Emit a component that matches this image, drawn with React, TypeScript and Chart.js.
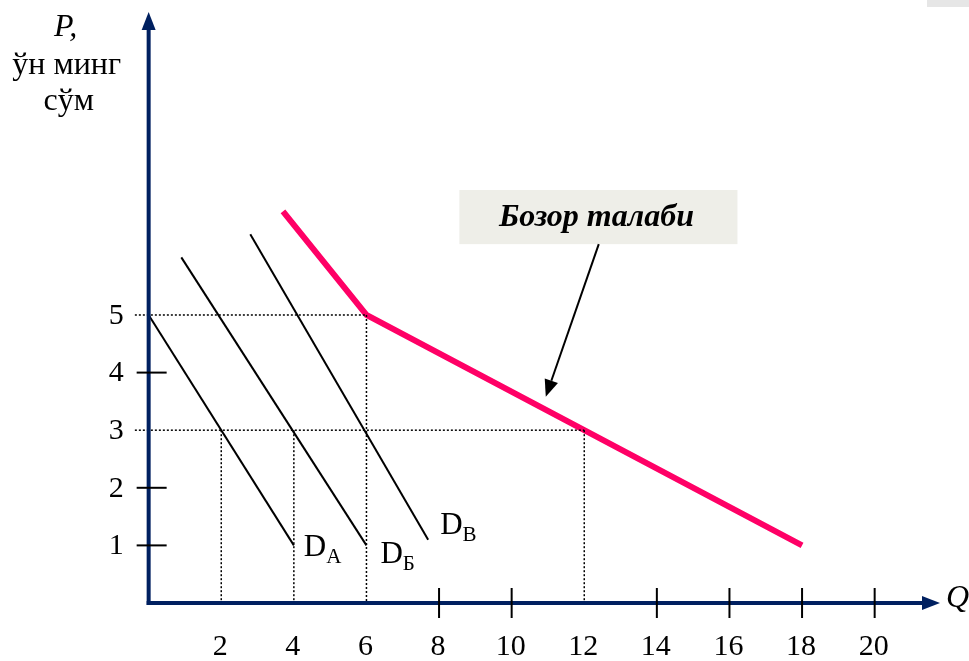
import React, { useEffect, useRef } from "react";
import { Chart, registerables } from "chart.js";

Chart.register(...registerables);

// ---- data ----
const qTickValues = [2, 4, 6, 8, 10, 12, 14, 16, 18, 20];
const qTickLabels = ["2", "4", "6", "8", "10", "12", "14", "16", "18", "20"];
const qMarkedTicks = [8, 10, 14, 16, 18, 20];
const pTickValues = [1, 2, 3, 4, 5];
const pTickLabels = ["1", "2", "3", "4", "5"];
const pMarkedTicks = [1, 2, 4];

const demandAQ = [0, 4];
const demandAP = [5, 1];
const demandBQ = [0.9, 6];
const demandBP = [6, 1];
const demandVQ = [2.8, 7.7];
const demandVP = [6.4, 1.1];
const marketQ = [3.7, 6, 12, 18];
const marketP = [6.8, 5, 3, 1];

// guide (dotted) lines
const hGuideP = [5, 3];
const hGuideToQ = [6, 12];
const vGuideQ = [2, 4, 6, 12];
const vGuideFromP = [3, 3, 5, 3];

const demandLabels = ["А", "Б", "В"];

const X_MIN = -0.5;
const X_MAX = 21.8;
const Y_MAX = 10.26;
const NAVY = "#002060";
const PINK = "#FF0066";
const SERIF = "'Liberation Serif', 'Times New Roman', serif";

const toPts = (qs: number[], ps: number[]) => qs.map((q, i) => ({ x: q, y: ps[i] }));

const overlayPlugin = {
  id: "overlay",
  afterDatasetsDraw(chart: any) {
    const { ctx } = chart;
    const xs = chart.scales.x;
    const ys = chart.scales.y;
    const X = (v: number) => xs.getPixelForValue(v);
    const Y = (v: number) => ys.getPixelForValue(v);
    const x0 = X(0);
    const y0 = Y(0);
    const yTop = Y(Y_MAX);
    const xEnd = X(X_MAX);
    ctx.save();

    // corner grey block
    ctx.fillStyle = "#E6E6E6";
    ctx.fillRect(927, 0, 42, 7);

    // axes
    ctx.strokeStyle = NAVY;
    ctx.fillStyle = NAVY;
    ctx.lineWidth = 4;
    ctx.beginPath();
    ctx.moveTo(x0, y0 + 2);
    ctx.lineTo(x0, yTop + 14);
    ctx.stroke();
    ctx.beginPath();
    ctx.moveTo(x0, yTop);
    ctx.lineTo(x0 - 7, yTop + 18);
    ctx.lineTo(x0 + 7, yTop + 18);
    ctx.closePath();
    ctx.fill();

    ctx.beginPath();
    ctx.moveTo(x0 - 2, y0);
    ctx.lineTo(xEnd - 14, y0);
    ctx.stroke();
    ctx.beginPath();
    ctx.moveTo(xEnd, y0);
    ctx.lineTo(xEnd - 18, y0 - 7);
    ctx.lineTo(xEnd - 18, y0 + 7);
    ctx.closePath();
    ctx.fill();

    // tick marks
    ctx.strokeStyle = "#000";
    ctx.lineWidth = 2;
    qMarkedTicks.forEach((q) => {
      ctx.beginPath();
      ctx.moveTo(X(q), y0 - 15);
      ctx.lineTo(X(q), y0 + 15);
      ctx.stroke();
    });
    pMarkedTicks.forEach((p) => {
      ctx.beginPath();
      ctx.moveTo(x0 - 12, Y(p));
      ctx.lineTo(x0 + 18, Y(p));
      ctx.stroke();
    });

    // tick labels
    ctx.fillStyle = "#000";
    ctx.font = `30px ${SERIF}`;
    ctx.textAlign = "center";
    ctx.textBaseline = "middle";
    qTickValues.forEach((q, i) => {
      ctx.fillText(qTickLabels[i], X(q) - 1, y0 + 44);
    });
    ctx.textAlign = "right";
    pTickValues.forEach((p, i) => {
      ctx.fillText(pTickLabels[i], x0 - 25, Y(p) + 1);
    });

    // axis titles
    ctx.textAlign = "center";
    ctx.textBaseline = "alphabetic";
    ctx.font = `italic 32px ${SERIF}`;
    ctx.fillText("P,", x0 - 83, yTop + 24);
    ctx.font = `32px ${SERIF}`;
    ctx.fillText("ўн минг", x0 - 82, yTop + 62);
    ctx.fillText("сўм", x0 - 80, yTop + 98);
    ctx.font = `italic 32px ${SERIF}`;
    ctx.textAlign = "left";
    ctx.textBaseline = "middle";
    ctx.fillText("Q", xEnd + 6, y0 - 4);

    // demand labels D_A, D_Б, D_В
    const ends = [
      { q: demandAQ[1], p: demandAP[1], dx: 10, dy: 11 },
      { q: demandBQ[1], p: demandBP[1], dx: 14, dy: 18 },
      { q: demandVQ[1], p: demandVP[1], dx: 12, dy: -6 },
    ];
    ctx.textAlign = "left";
    ctx.textBaseline = "alphabetic";
    ends.forEach((e, i) => {
      const lx = X(e.q) + e.dx;
      const ly = Y(e.p) + e.dy;
      ctx.font = `31px ${SERIF}`;
      ctx.fillText("D", lx, ly);
      const w = ctx.measureText("D").width;
      ctx.font = `21px ${SERIF}`;
      ctx.fillText(demandLabels[i], lx + w, ly + 7);
    });

    // market demand callout
    const bx1 = X(8.56), bx2 = X(16.22), by1 = Y(7.17), by2 = Y(6.23);
    ctx.fillStyle = "#EEEEE8";
    ctx.fillRect(bx1, by1, bx2 - bx1, by2 - by1);
    ctx.fillStyle = "#000";
    ctx.font = `bold italic 32px ${SERIF}`;
    ctx.textAlign = "center";
    ctx.textBaseline = "alphabetic";
    ctx.fillText("Бозор талаби", (bx1 + bx2) / 2 - 2, by1 + 36);

    // arrow
    const ax1 = X(12.4), ay1 = Y(6.23), ax2 = X(10.94), ay2 = Y(3.58);
    const ang = Math.atan2(ay2 - ay1, ax2 - ax1);
    const hl = 17, hw = 7;
    const bxm = ax2 - hl * Math.cos(ang), bym = ay2 - hl * Math.sin(ang);
    ctx.strokeStyle = "#000";
    ctx.lineWidth = 2;
    ctx.beginPath();
    ctx.moveTo(ax1, ay1);
    ctx.lineTo(bxm, bym);
    ctx.stroke();
    ctx.beginPath();
    ctx.moveTo(ax2, ay2);
    ctx.lineTo(bxm + hw * Math.sin(ang), bym - hw * Math.cos(ang));
    ctx.lineTo(bxm - hw * Math.sin(ang), bym + hw * Math.cos(ang));
    ctx.closePath();
    ctx.fill();

    ctx.restore();
  },
};

export default function App() {
  const ref = useRef<HTMLCanvasElement>(null);
  useEffect(() => {
    if (!ref.current) return;
    const dotted = {
      borderColor: "#000",
      borderWidth: 1.5,
      borderDash: [2, 2],
      pointRadius: 0,
      showLine: true,
      fill: false,
      clip: false as any,
    };
    const datasets: any[] = [];
    hGuideP.forEach((p, i) => {
      datasets.push({ ...dotted, data: [{ x: -0.38, y: p }, { x: hGuideToQ[i], y: p }] });
    });
    vGuideQ.forEach((q, i) => {
      datasets.push({ ...dotted, data: [{ x: q, y: vGuideFromP[i] }, { x: q, y: 0 }] });
    });
    [
      [demandAQ, demandAP],
      [demandBQ, demandBP],
      [demandVQ, demandVP],
    ].forEach(([qs, ps]) => {
      datasets.push({
        data: toPts(qs, ps),
        borderColor: "#000",
        borderWidth: 2,
        pointRadius: 0,
        showLine: true,
        fill: false,
      });
    });
    datasets.push({
      data: toPts(marketQ, marketP),
      borderColor: PINK,
      borderWidth: 6,
      pointRadius: 0,
      showLine: true,
      fill: false,
      borderJoinStyle: "miter",
    });

    const chart = new Chart(ref.current, {
      type: "scatter",
      data: { datasets },
      options: {
        animation: false,
        responsive: false,
        maintainAspectRatio: false,
        layout: { padding: { left: 130.5, right: 29, top: 12, bottom: 58 } },
        scales: {
          x: { type: "linear", min: X_MIN, max: X_MAX, display: false },
          y: { type: "linear", min: 0, max: Y_MAX, display: false },
        },
        plugins: { legend: { display: false }, tooltip: { enabled: false } },
        events: [],
      },
      plugins: [overlayPlugin],
    });
    return () => chart.destroy();
  }, []);

  return (
    <div style={{ position: "absolute", left: 0, top: 0, width: 969, height: 661, background: "#fff" }}>
      <canvas ref={ref} width={969} height={661} style={{ display: "block", width: 969, height: 661 }} />
    </div>
  );
}
